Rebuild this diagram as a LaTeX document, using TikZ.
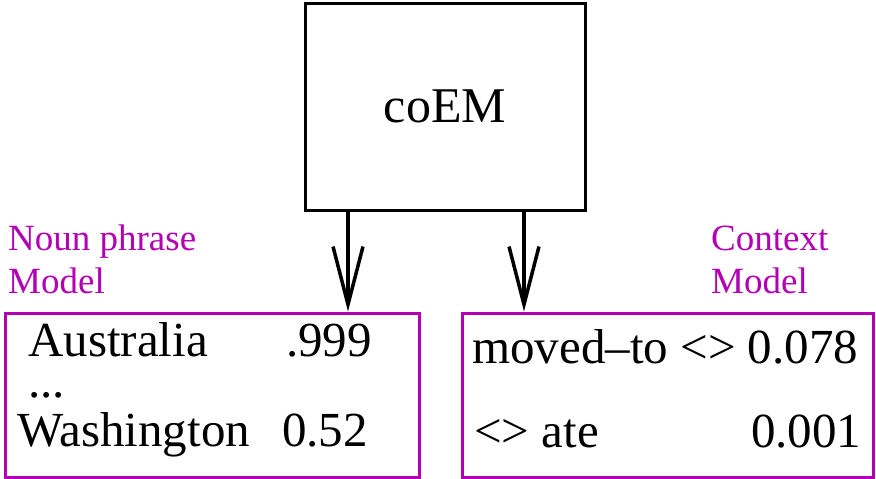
\documentclass[tikz,border=0pt]{standalone}
\usepackage{fontspec}
\setmainfont{Liberation Serif}
\usepackage{xcolor}
\usepackage{tikz}
\usetikzlibrary{arrows.meta,positioning,calc}
\definecolor{modelpurple}{HTML}{B400B4}
\tikzset{
  mainbox/.style={draw, line width=3pt, inner sep=0pt, minimum width=280pt, minimum height=207pt, font=\fontsize{50}{60}\selectfont},
  modelbox/.style={draw=modelpurple, line width=3pt, inner sep=0pt, minimum width=414pt, minimum height=164pt},
  tag/.style={anchor=base west, inner sep=0pt, text=modelpurple, font=\fontsize{37}{44}\selectfont},
  entry/.style={anchor=base west, inner sep=0pt, font=\fontsize{49}{58}\selectfont},
  line/.style={-{Straight Barb[length=58pt,width=30pt,line width=3.5pt]}, line width=4pt}
}
\begin{document}
\begin{tikzpicture}[x=1pt,y=-1pt]
  \useasboundingbox (0,0) rectangle (876,479);
  \node[mainbox] (coem) at (445,106.5) {coEM};
  \node[modelbox] (np) at (212.5,395) {};
  \node[modelbox, minimum width=411pt] (ctx) at (668,395) {};
  % model titles
  \node[tag] (nptitle) at (8,250) {Noun phrase};
  \node[tag] (npmodel) at (8,293) {Model};
  \node[tag] (ctxtitle) at (711,250) {Context};
  \node[tag] (ctxmodel) at (711,293) {Model};
  % noun phrase entries
  \node[entry] (aus) at (28,356) {Australia};
  \node[entry] (ausval) at (286,356) {.999};
  \node[entry] (dots) at (28,397) {...};
  \node[entry] (wash) at (17,446) {Washington};
  \node[entry] (washval) at (282,446) {0.52};
  % context entries
  \node[entry] (moved) at (472,363) {moved--to <> 0.078};
  \node[entry] (ate) at (474,447) {<> ate};
  \node[entry] (ateval) at (751,447) {0.001};
  % arrows
  \coordinate (leftx) at (348,0);
  \coordinate (rightx) at (524,0);
  \draw[line] (coem.south -| leftx) -- (np.north -| leftx);
  \draw[line] (coem.south -| rightx) -- (ctx.north -| rightx);
\end{tikzpicture}
\end{document}
